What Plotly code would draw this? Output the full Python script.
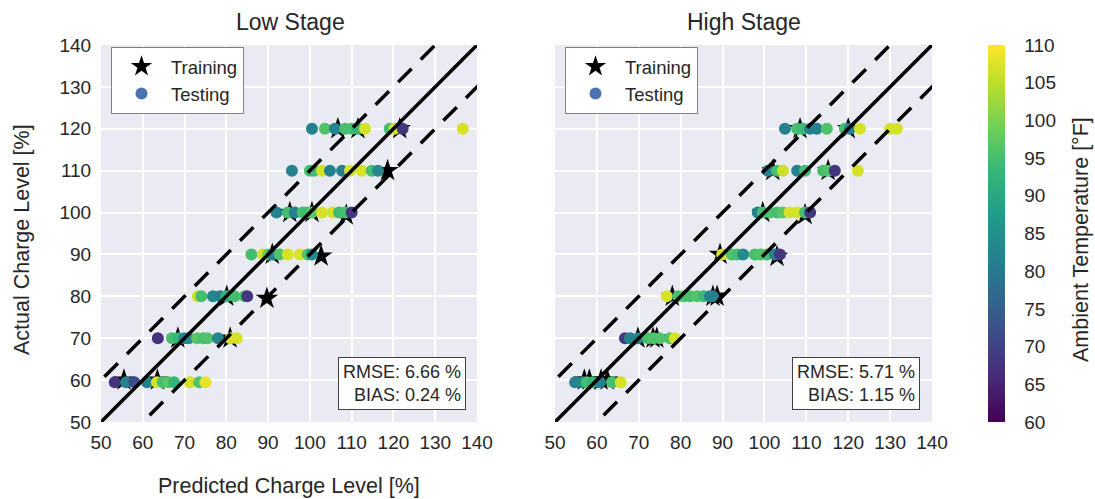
import plotly.graph_objects as go

# ---------------- data ----------------
# Low stage - testing (predicted, actual, ambient temperature)
low_test_pred = [53.3, 56.0, 58.0, 61.0, 63.4, 64.8, 66.2, 67.5, 71.3, 73.5, 75.0,
                 63.6, 67.0, 68.5, 70.0, 71.0, 73.0, 74.5, 75.5, 78.0, 81.0, 82.5,
                 73.2, 74.0, 76.8, 78.5, 80.0, 82.0, 84.4, 85.0,
                 86.0, 88.8, 90.0, 91.0, 92.8, 94.7, 97.6, 99.5, 100.5,
                 92.0, 94.7, 96.4, 98.3, 99.5, 100.5, 102.9, 105.5, 107.0, 108.4, 110.0,
                 95.7, 100.0, 101.0, 102.9, 104.8, 107.7, 109.6, 112.4, 114.8, 116.3,
                 100.5, 103.6, 106.0, 108.4, 110.0, 111.5, 113.2, 119.1, 120.3, 122.2, 136.6]
low_test_actual = [59.5] * 11 + [70] * 11 + [80] * 8 + [90] * 9 + [100] * 11 + [110] * 10 + [120] * 11
low_test_temp = [67, 82, 72, 82, 107, 95, 97, 93, 107, 96, 108,
                 67, 95, 93, 82, 84, 97, 95, 96, 83, 107, 107,
                 106, 95, 83, 82, 92, 95, 96, 68,
                 95, 107, 98, 82, 96, 107, 107, 96, 84,
                 82, 95, 82, 95, 94, 97, 107, 107, 94, 95, 68,
                 82, 95, 94, 107, 82, 82, 107, 107, 95, 83,
                 82, 96, 82, 95, 95, 93, 107, 95, 107, 68, 107]
# Low stage - training
low_train_pred = [55.5, 63.5, 68.4, 80.9, 80.1, 89.7, 91.0, 102.7, 95.2, 100.5, 108.7, 118.6, 106.7, 111.5, 121.5]
low_train_actual = [60, 60, 70, 70, 80, 79.5, 90, 89.6, 100, 100, 99.4, 110, 120, 120, 120]

# High stage - testing
high_test_pred = [54.8, 56.5, 57.6, 59.0, 60.7, 63.6, 65.7,
                  66.7, 67.9, 69.8, 72.2, 73.5, 75.0, 77.4, 78.6,
                  76.7, 79.4, 80.8, 82.2, 83.9, 85.5, 87.0, 87.7,
                  89.9, 92.2, 93.5, 94.9, 97.7, 99.0, 100.6, 102.5, 103.7,
                  98.4, 99.6, 101.3, 103.0, 104.4, 106.0, 107.8, 109.7, 110.9,
                  100.8, 103.0, 104.4, 107.8, 109.7, 114.0, 115.2, 116.8, 122.3,
                  104.9, 107.8, 109.2, 110.9, 112.5, 114.9, 119.2, 120.4, 122.8, 130.0, 131.6]
high_test_actual = [59.5] * 7 + [70] * 8 + [80] * 8 + [90] * 9 + [100] * 9 + [110] * 9 + [120] * 11
high_test_temp = [82, 84, 95, 93, 82, 95, 107,
                  68, 82, 83, 95, 96, 96, 96, 107,
                  107, 95, 96, 95, 96, 94, 82, 82,
                  107, 96, 95, 84, 95, 96, 95, 82, 68,
                  82, 95, 96, 95, 97, 107, 107, 95, 68,
                  82, 95, 106, 82, 95, 95, 96, 68, 107,
                  82, 95, 94, 82, 82, 96, 95, 82, 107, 107, 107]
# High stage - training
high_train_pred = [57.0, 58.2, 61.0, 62.5, 69.8, 73.4, 74.3, 78.0, 87.7, 88.7, 89.4, 103.0, 99.6, 109.7, 102.0, 115.2, 108.5, 120.0]
high_train_actual = [60, 60, 60, 60, 70, 70, 70, 80, 80, 80, 90, 89.5, 100, 99.5, 110, 110, 120, 120]

# reference lines: 1:1 and +/- band
ref_range = [40, 150]
band = 10

stats = {"low": ("6.66", "0.24"), "high": ("5.71", "1.15")}
axis_ticks = list(range(50, 141, 10))
cbar_ticks = list(range(60, 111, 5))

# ---------------- figure ----------------
W, H = 1095, 499
TXT = "#262626"
FONT = "Liberation Sans, Arial, sans-serif"
CLEAR = "rgba(0,0,0,0)"
TICK_SIZE = 19
LABEL_SIZE = 21.5

fig = go.Figure()

panels = [
    ("x", "y", low_test_pred, low_test_actual, low_test_temp, low_train_pred, low_train_actual, "legend"),
    ("x2", "y2", high_test_pred, high_test_actual, high_test_temp, high_train_pred, high_train_actual, "legend2"),
]

for xa, ya, tp, ta, tt, rp, ra, lg in panels:
    # legend entries
    fig.add_trace(go.Scatter(x=[None], y=[None], mode="markers", name="Training",
                             marker=dict(symbol="star", size=18, color="black", line=dict(width=0)),
                             xaxis=xa, yaxis=ya, legend=lg, showlegend=True))
    fig.add_trace(go.Scatter(x=[None], y=[None], mode="markers", name="Testing",
                             marker=dict(symbol="circle", size=12, color="#4C72B0", line=dict(width=0)),
                             xaxis=xa, yaxis=ya, legend=lg, showlegend=True))
    # training stars
    fig.add_trace(go.Scatter(x=rp, y=ra, mode="markers", showlegend=False,
                             marker=dict(symbol="star", size=17, color="black", line=dict(width=0)),
                             xaxis=xa, yaxis=ya))
    # testing circles
    fig.add_trace(go.Scatter(x=tp, y=ta, mode="markers", showlegend=False,
                             marker=dict(symbol="circle", size=12, color=tt, coloraxis="coloraxis",
                                         line=dict(width=0)),
                             xaxis=xa, yaxis=ya))
    # reference lines
    fig.add_trace(go.Scatter(x=ref_range, y=ref_range, mode="lines", showlegend=False,
                             line=dict(color="black", width=3.5), xaxis=xa, yaxis=ya, hoverinfo="skip"))
    for off in (band, -band):
        fig.add_trace(go.Scatter(x=ref_range, y=[v + off for v in ref_range], mode="lines", showlegend=False,
                                 line=dict(color="black", width=3.5, dash="19px,13px"),
                                 xaxis=xa, yaxis=ya, hoverinfo="skip"))

# domains in pixels
def px_x(p):
    return p / W

def px_y(p):
    return 1 - p / H

top, bottom = 45, 422
ax_common = dict(range=[50, 140], tickvals=axis_ticks, showgrid=True, gridcolor="white", gridwidth=2,
                 zeroline=False, showline=False, automargin=False,
                 tickfont=dict(size=TICK_SIZE, color=TXT, family=FONT))
x_ticks = dict(ticks="outside", ticklen=3, tickcolor=CLEAR)
y_ticks = dict(ticks="outside", ticklen=5, tickcolor=CLEAR)

fig.update_layout(
    width=W, height=H,
    margin=dict(l=0, r=0, t=0, b=0, autoexpand=False),
    paper_bgcolor="white",
    plot_bgcolor="#EAEAF2",
    font=dict(family=FONT, color=TXT),
    xaxis=dict(domain=[px_x(101), px_x(477)], anchor="y", **ax_common, **x_ticks),
    yaxis=dict(domain=[px_y(bottom), px_y(top)], anchor="x", **ax_common, **y_ticks),
    xaxis2=dict(domain=[px_x(555), px_x(932)], anchor="y2", **ax_common, **x_ticks),
    yaxis2=dict(domain=[px_y(bottom), px_y(top)], anchor="x2", showticklabels=False,
                **ax_common, ticks=""),
    coloraxis=dict(
        colorscale="Viridis", cmin=60, cmax=110,
        colorbar=dict(
            x=px_x(988), xanchor="left", xpad=0, ypad=0,
            y=px_y((top + bottom) / 2), yanchor="middle",
            len=bottom - top, lenmode="pixels", thickness=17,
            outlinewidth=0, tickvals=cbar_ticks,
            ticks="outside", ticklen=16, tickcolor=CLEAR,
            tickfont=dict(size=TICK_SIZE, color=TXT, family=FONT),
        ),
    ),
    legend=dict(x=px_x(111), y=px_y(47), xanchor="left", yanchor="top",
                bgcolor="white", bordercolor="#808080", borderwidth=1,
                font=dict(size=18.5, color=TXT, family=FONT), itemwidth=49,
                tracegroupgap=0),
    legend2=dict(x=px_x(565), y=px_y(47), xanchor="left", yanchor="top",
                 bgcolor="white", bordercolor="#808080", borderwidth=1,
                 font=dict(size=18.5, color=TXT, family=FONT), itemwidth=49,
                 tracegroupgap=0),
    showlegend=True,
)

annotations = [
    dict(text="Low Stage", x=px_x(290), y=px_y(22), xref="paper", yref="paper",
         xanchor="center", yanchor="middle",
         showarrow=False, font=dict(size=23, color=TXT, family=FONT)),
    dict(text="High Stage", x=px_x(744), y=px_y(22), xref="paper", yref="paper",
         xanchor="center", yanchor="middle",
         showarrow=False, font=dict(size=23, color=TXT, family=FONT)),
    dict(text="Predicted Charge Level [%]", x=px_x(289), y=px_y(486), xref="paper", yref="paper",
         xanchor="center", yanchor="middle",
         showarrow=False, font=dict(size=LABEL_SIZE, color=TXT, family=FONT)),
    dict(text="Actual Charge Level [%]", x=px_x(22), y=px_y(240), xref="paper", yref="paper",
         xanchor="center", yanchor="middle",
         showarrow=False, textangle=-90, font=dict(size=LABEL_SIZE, color=TXT, family=FONT)),
    dict(text="Ambient Temperature [°F]", x=px_x(1081), y=px_y(240), xref="paper", yref="paper",
         xanchor="center", yanchor="middle",
         showarrow=False, textangle=-90, font=dict(size=LABEL_SIZE, color=TXT, family=FONT)),
]
for key, xr in (("low", 466), ("high", 920)):
    r, b = stats[key]
    annotations.append(dict(
        text=f"RMSE: {r} %<br>BIAS: {b} %", align="right",
        x=px_x(xr), y=px_y(410), xref="paper", yref="paper", xanchor="right", yanchor="bottom",
        showarrow=False, bgcolor="white", bordercolor="#404040", borderwidth=1, borderpad=4,
        font=dict(size=18, color=TXT, family=FONT)))
fig.update_layout(annotations=annotations)

fig.write_html("out.html", config={"displayModeBar": False},
               post_script="document.body.style.margin='0px';")
